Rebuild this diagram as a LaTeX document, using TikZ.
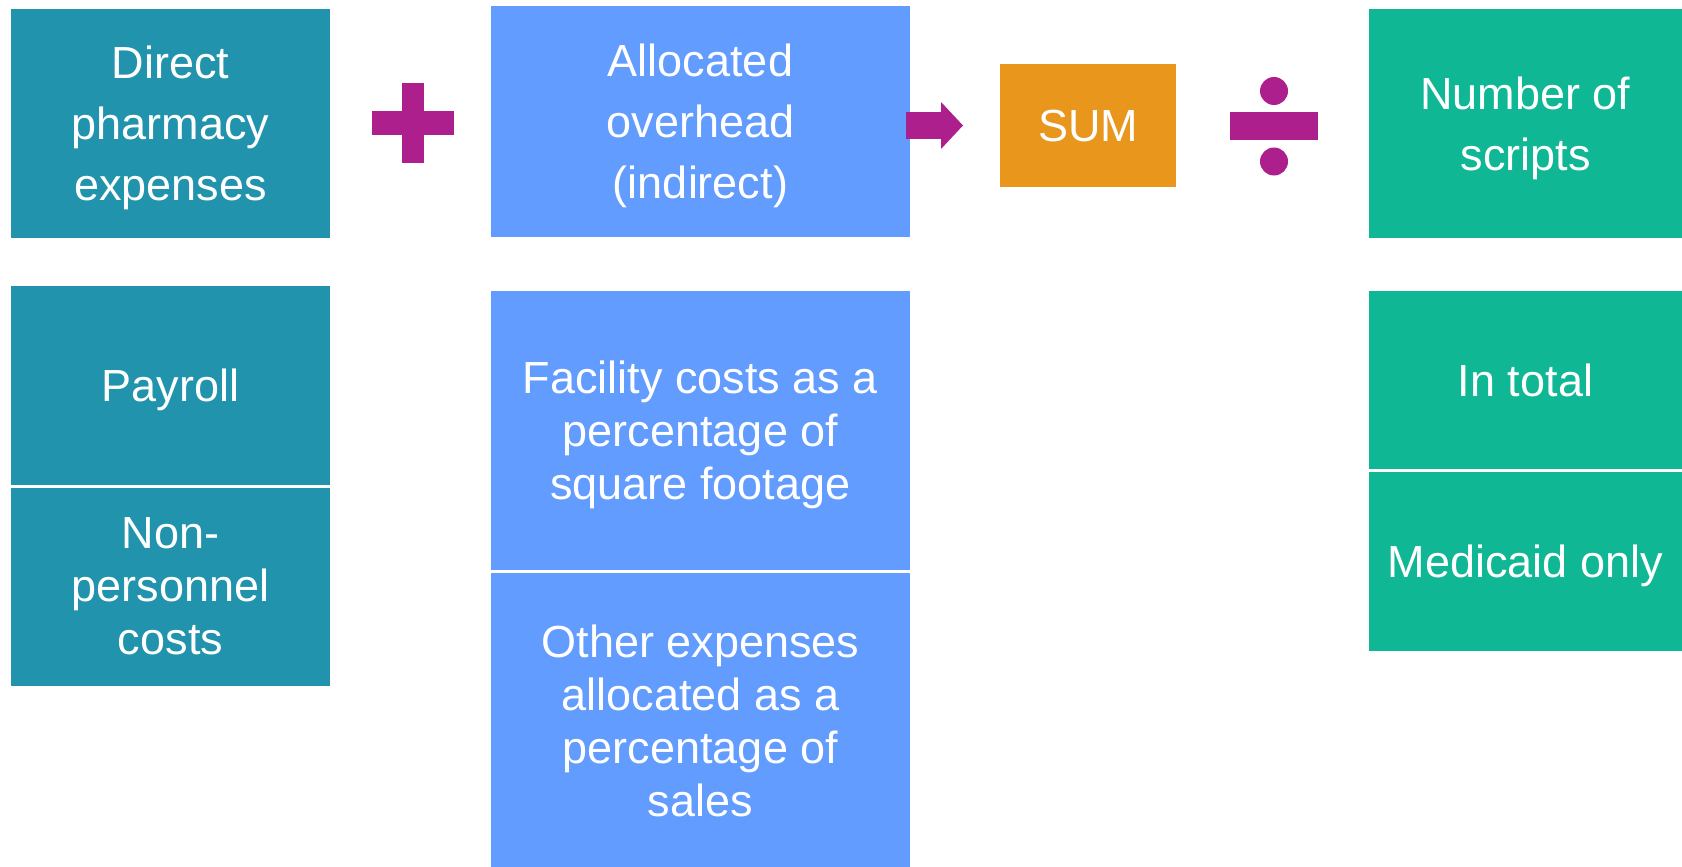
\documentclass[tikz,border=0pt]{standalone}
\usepackage{fontspec}
\setmainfont{Liberation Sans}
\usetikzlibrary{positioning,arrows.meta}

\definecolor{directteal}{HTML}{2293AD}
\definecolor{overheadblue}{HTML}{629CFE}
\definecolor{sumorange}{HTML}{E8961C}
\definecolor{scriptgreen}{HTML}{10B794}
\definecolor{opmagenta}{HTML}{AC1F8C}

\begin{document}
\begin{tikzpicture}[x=1pt,y=-1pt,
    box/.style={rectangle,inner sep=0pt,outer sep=0pt,text=white,align=center,text depth=0pt,
      font=\fontsize{45}{61}\selectfont},
    subbox/.style={box,font=\fontsize{45}{53}\selectfont},
    node distance=2.5pt]
  \useasboundingbox (0,0) rectangle (1682,867);

  % top row
  \node[box,fill=directteal,minimum width=319pt,minimum height=229pt] (direct) at (170.5,123.5) {Direct\\pharmacy\\expenses};
  \node[box,fill=overheadblue,minimum width=419pt,minimum height=230pt] (alloc) at (700.5,121.5) {Allocated\\overhead\\(indirect)};
  \node[box,fill=sumorange,minimum width=176pt,minimum height=123pt] (sum) at (1088,125.5) {SUM};
  \node[box,fill=scriptgreen,minimum width=313pt,minimum height=229pt] (scripts) at (1525.5,123.5) {Number of\\scripts};

  % direct costs
  \node[subbox,fill=directteal,minimum width=319pt,minimum height=199pt] (payroll) at (170.5,385.5) {Payroll};
  \node[subbox,fill=directteal,minimum width=319pt,minimum height=198pt,below=of payroll] (nonpers) {Non-\\personnel\\costs};

  % overhead
  \node[subbox,fill=overheadblue,minimum width=419pt,minimum height=279pt] (facility) at (700.5,430.5) {Facility costs as a\\percentage of\\square footage};
  \node[subbox,fill=overheadblue,minimum width=419pt,minimum height=296pt,below=of facility] (other) {Other expenses\\allocated as a\\percentage of\\sales};

  % scripts
  \node[subbox,fill=scriptgreen,minimum width=313pt,minimum height=178pt] (total) at (1525.5,380) {In total};
  \node[subbox,fill=scriptgreen,minimum width=313pt,minimum height=179pt,below=of total] (medicaid) {Medicaid only};

  % plus
  \fill[opmagenta] (402,83) rectangle (424,163);
  \fill[opmagenta] (372,111) rectangle (454,135);

  % arrow
  \draw[opmagenta,line width=27pt,-{Triangle[length=22pt,width=47pt,line width=0pt]},
    shorten <=-4pt,shorten >=37pt] (alloc.east |- sum.west) -- (sum.west);

  % divide
  \fill[opmagenta] (1230,112) rectangle (1318,140);
  \fill[opmagenta] (1274,91) circle[radius=14];
  \fill[opmagenta] (1274,161.5) circle[radius=14];
\end{tikzpicture}
\end{document}
